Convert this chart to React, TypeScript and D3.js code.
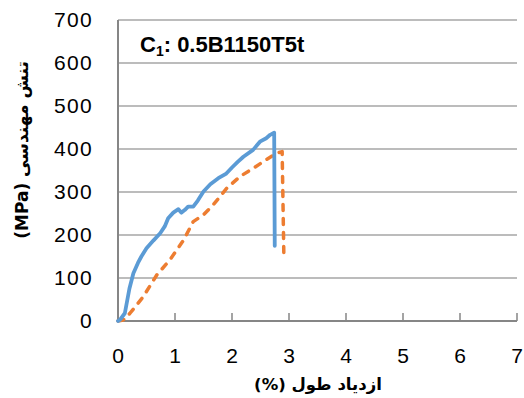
import React from "react";
import * as d3 from "d3";

const blueStrain = [0, 0.03, 0.12, 0.2, 0.27, 0.35, 0.41, 0.5, 0.62, 0.74, 0.82, 0.88, 0.97, 1.06, 1.11, 1.17, 1.23, 1.32, 1.4, 1.5, 1.62, 1.76, 1.9, 2.0, 2.1, 2.2, 2.37, 2.49, 2.6, 2.67, 2.74, 2.75];
const blueStress = [0, 2, 18, 75, 111, 135, 150, 169, 187, 204, 220, 239, 252, 260, 252, 258, 266, 266, 280, 301, 318, 332, 343, 357, 370, 382, 398, 417, 425, 433, 438, 175];

const orangeStrain = [0, 0.09, 0.21, 0.44, 0.68, 0.91, 1.15, 1.32, 1.5, 1.67, 1.91, 2.14, 2.37, 2.6, 2.78, 2.88, 2.91];
const orangeStress = [0, 2, 18, 56, 107, 142, 188, 231, 247, 270, 309, 336, 355, 375, 390, 394, 150];

const xTicks = [0, 1, 2, 3, 4, 5, 6, 7];
const yTicks = [0, 100, 200, 300, 400, 500, 600, 700];

const xTitle = "ازدیاد طول (%)";
const yTitle = "تنش مهندسی (MPa)";

export default function App() {
  const W = 524, H = 398;
  const x = d3.scaleLinear().domain([0, 7]).range([118, 517]);
  const y = d3.scaleLinear().domain([0, 700]).range([321, 20]);
  const line = d3.line<[number, number]>().x(d => x(d[0])).y(d => y(d[1]));
  const blue: [number, number][] = blueStrain.map((s, i) => [s, blueStress[i]]);
  const orange: [number, number][] = orangeStrain.map((s, i) => [s, orangeStress[i]]);
  const tickFont = "'Liberation Sans', Arial, sans-serif";
  return (
    <svg width={W} height={H} style={{ position: "absolute", left: 0, top: 0, background: "#fff" }}>
      {yTicks.slice(1).map(t => (
        <line key={t} x1={x(0)} x2={x(7)} y1={y(t)} y2={y(t)} stroke="#a6a6a6" strokeWidth={1.3} />
      ))}
      {xTicks.slice(1).map(t => (
        <line key={t} x1={x(t)} x2={x(t)} y1={y(0)} y2={y(0) - 8} stroke="#868686" strokeWidth={1.5} />
      ))}
      <line x1={x(0)} x2={x(0)} y1={y(0)} y2={y(700)} stroke="#868686" strokeWidth={2} />
      <line x1={x(0)} x2={x(7)} y1={y(0)} y2={y(0)} stroke="#868686" strokeWidth={2} />
      {yTicks.map(t => (
        <text key={t} x={93} y={y(t)} dy="0.35em" textAnchor="end" fontSize={21} letterSpacing={1.3} fontFamily={tickFont} fill="#000">{t}</text>
      ))}
      {xTicks.map(t => (
        <text key={t} x={x(t)} y={356} dy="0.35em" textAnchor="middle" fontSize={21} fontFamily={tickFont} fill="#000">{t}</text>
      ))}
      <path d={line(orange) || ""} fill="none" stroke="#ED7D31" strokeWidth={3.5} strokeDasharray="6,8" strokeLinecap="round" strokeLinejoin="round" />
      <path d={line(blue) || ""} fill="none" stroke="#5B9BD5" strokeWidth={3.8} strokeLinecap="round" strokeLinejoin="round" />
      <text x={140} y={52} fontSize={22} fontWeight="bold" fontFamily={tickFont} fill="#000">
        C<tspan fontSize={14} dy={4}>1</tspan><tspan dy={-4}>: 0.5B1150T5t</tspan>
      </text>
      <text x={318} y={390} textAnchor="middle" fontSize={16.5} fontWeight="bold" fontFamily="'DejaVu Sans', sans-serif" direction="rtl" fill="#000">{xTitle}</text>
      <text transform="translate(28,150) rotate(-90)" textAnchor="middle" fontSize={17} fontWeight="bold" fontFamily="'DejaVu Sans', sans-serif" direction="rtl" fill="#000">{yTitle}</text>
    </svg>
  );
}
